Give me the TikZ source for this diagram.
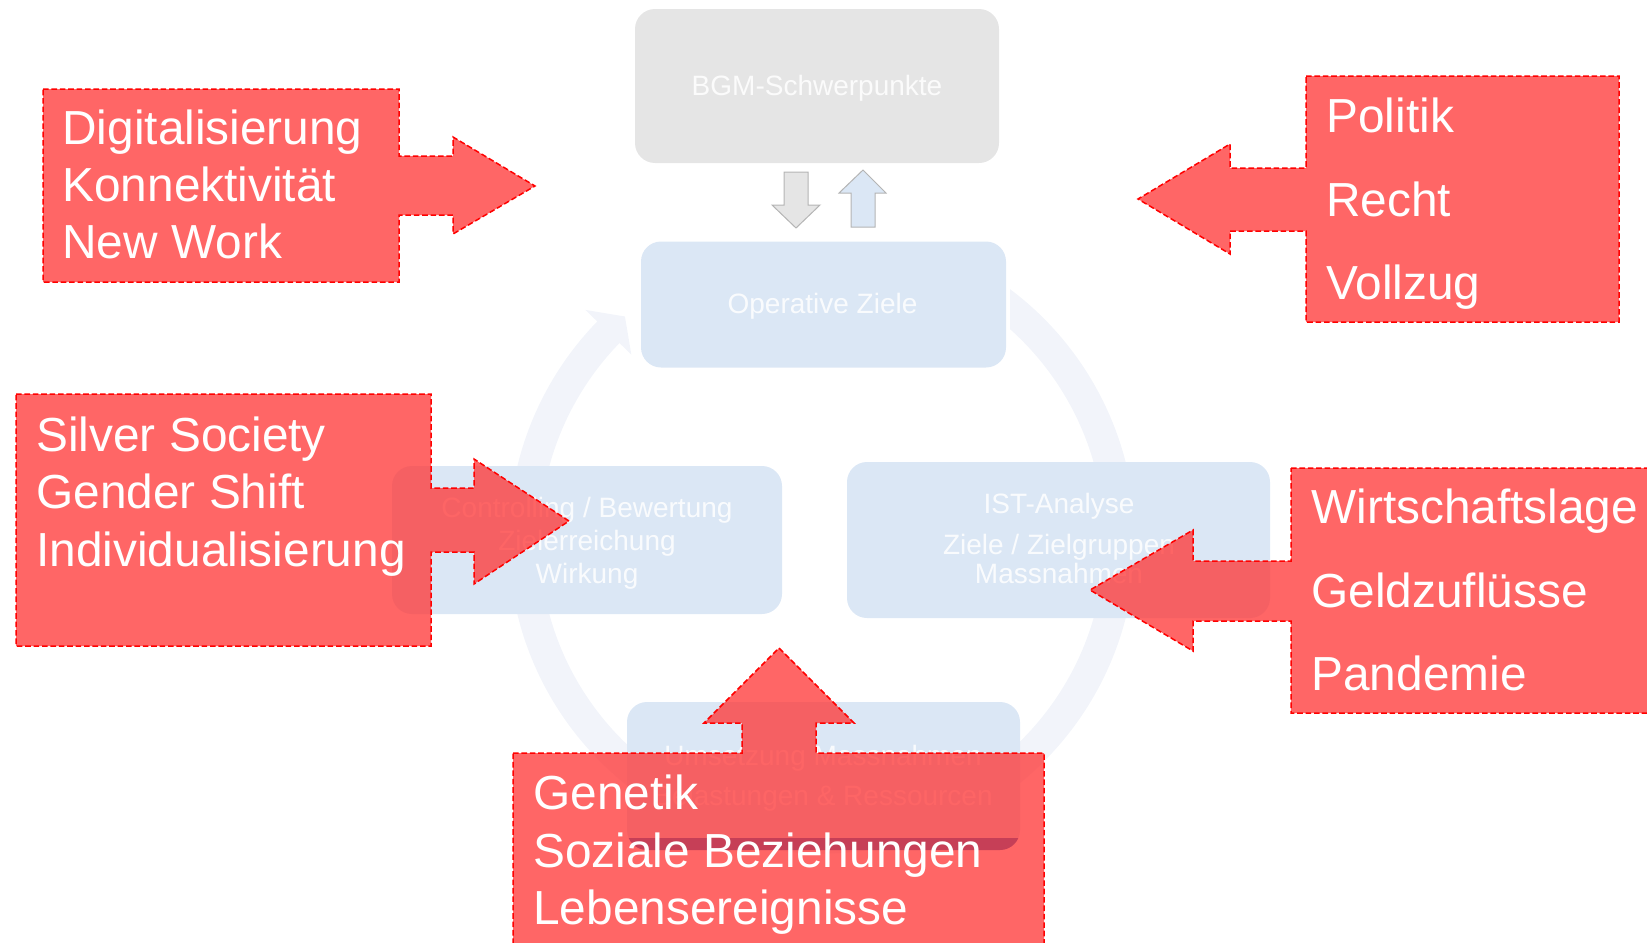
\documentclass[tikz,border=0pt]{standalone}
\usepackage{fontspec}
\setmainfont{Liberation Sans}
\definecolor{ringcol}{RGB}{242,244,250}
\definecolor{boxblue}{RGB}{219,231,245}
\definecolor{boxgray}{RGB}{229,229,229}
\definecolor{arrowline}{RGB}{180,180,180}
\definecolor{calloutred}{RGB}{255,51,51}
\definecolor{dashred}{RGB}{255,0,0}
\definecolor{stripblue}{RGB}{30,100,195}

\begin{document}
\begin{tikzpicture}[x=0.5pt,y=-0.5pt,
  cyclebox/.style={fill=boxblue, rounded corners=10pt, inner sep=0pt},
  topbox/.style={fill=boxgray, rounded corners=10pt, inner sep=0pt},
  boxtext/.style={anchor=base, inner sep=0pt, text=white, text opacity=0.85,
    font=\fontsize{14pt}{16pt}\selectfont},
  callout/.style={fill=calloutred, fill opacity=0.75, draw=dashred, draw opacity=1,
    line width=0.75pt, dash pattern=on 2.8pt off 1.4pt, line join=miter},
  callouttext/.style={anchor=base west, inner sep=0pt, text=white,
    font=\fontsize{23.9pt}{28pt}\selectfont},
  blockarrow/.style={draw=arrowline, line width=0.5pt, line join=miter}
]
\useasboundingbox (0,0) rectangle (1647,942);
\clip (0,0) rectangle (1647,942);

% --- cycle ring behind the boxes ---
\begin{scope}
  \clip (1010,0) rectangle (1647,942);
  \draw[ringcol, line width=15.5pt] ([shift={(822,540)}]-60:298) arc[start angle=-60, end angle=2, radius=298];
\end{scope}
\draw[ringcol, line width=15.5pt] ([shift={(822,540)}]-4:298) arc[start angle=-4, end angle=224.4, radius=298];
\fill[ringcol] ([shift={(822,540)}]224.2:330) -- ([shift={(822,540)}]228.6:298) -- ([shift={(822,540)}]224.2:266) -- cycle;

% --- top level box and the two small block arrows ---
\node[topbox, minimum width=182pt, minimum height=77pt] (bgm) at (817,86) {};
\node[boxtext] (bgm-t) at (817,95) {BGM-Schwerpunkte};

\fill[boxgray] (784,172) -- (808,172) -- (808,205) -- (820,205) -- (796,228) -- (772,205) -- (784,205) -- cycle;
\draw[blockarrow] (784,172) -- (808,172) -- (808,205) -- (820,205) -- (796,228) -- (772,205) -- (784,205) -- cycle;
\fill[boxblue] (851,227) -- (875,227) -- (875,193) -- (886,193) -- (863,170) -- (839,193) -- (851,193) -- cycle;
\draw[blockarrow] (851,227) -- (875,227) -- (875,193) -- (886,193) -- (863,170) -- (839,193) -- (851,193) -- cycle;

% --- the four cycle boxes ---
\node[cyclebox, minimum width=182.5pt, minimum height=63pt] (opz) at (823.5,304.5) {};
\node[boxtext] (opz-t) at (822.5,313) {Operative Ziele};

\node[cyclebox, minimum width=211.5pt, minimum height=78pt] (ist) at (1058.5,540) {};
\node[boxtext] (ist-t1) at (1059,513) {IST-Analyse};
\node[boxtext] (ist-t2) at (1059,554) {Ziele / Zielgruppen};
\node[boxtext] (ist-t3) at (1059,583) {Massnahmen};

\node[cyclebox, minimum width=195pt, minimum height=74pt] (ctrl) at (587,540) {};
\node[boxtext] (ctrl-t1) at (587,517) {Controlling / Bewertung};
\node[boxtext] (ctrl-t2) at (587,550) {Zielerreichung};
\node[boxtext] (ctrl-t3) at (587,583) {Wirkung};

\node[cyclebox, minimum width=196.5pt, minimum height=74pt] (ums) at (823.5,776) {};
\begin{scope}
  \clip (600,838) rectangle (1050,870);
  \fill[stripblue, rounded corners=10pt] (627,702) rectangle (1020,850);
\end{scope}
\node[boxtext] (ums-t1) at (823,765) {Umsetzung Massnahmen};
\node[boxtext] (ums-t2) at (823,805) {Belastungen \& Ressourcen};

% --- red influence callouts ---
\path[callout] (43,89) -- (399,89) -- (399,156) -- (453,156) -- (453,137) -- (535,186)
  -- (453,234) -- (453,215) -- (399,215) -- (399,282) -- (43,282) -- cycle;
\path[callout] (1306,76) -- (1619,76) -- (1619,322) -- (1306,322) -- (1306,231) -- (1230,231)
  -- (1230,254) -- (1138,199) -- (1230,144) -- (1230,168) -- (1306,168) -- cycle;
\path[callout] (16,394) -- (431,394) -- (431,488) -- (474,488) -- (474,459) -- (569,521)
  -- (474,584) -- (474,552) -- (431,552) -- (431,646) -- (16,646) -- cycle;
\path[callout] (1291,468) -- (1670,468) -- (1670,713) -- (1291,713) -- (1291,621) -- (1193,621)
  -- (1193,651) -- (1090,590) -- (1193,530) -- (1193,561) -- (1291,561) -- cycle;
\path[callout] (513,753) -- (742,753) -- (742,723) -- (704,723) -- (779,648) -- (854,723)
  -- (816,723) -- (816,753) -- (1044,753) -- (1044,970) -- (513,970) -- cycle;

% --- callout texts ---
\node[callouttext] (c1a) at (62,144) {Digitalisierung};
\node[callouttext] (c1b) at (62,201) {Konnektivität};
\node[callouttext] (c1c) at (62,258) {New Work};

\node[callouttext] (c2a) at (1326,132) {Politik};
\node[callouttext] (c2b) at (1326,216) {Recht};
\node[callouttext] (c2c) at (1326,299) {Vollzug};

\node[callouttext] (c3a) at (36,451) {Silver Society};
\node[callouttext] (c3b) at (36,508) {Gender Shift};
\node[callouttext] (c3c) at (36,566) {Individualisierung};

\node[callouttext] (c4a) at (1311,523) {Wirtschaftslage};
\node[callouttext] (c4b) at (1311,607) {Geldzuflüsse};
\node[callouttext] (c4c) at (1311,690) {Pandemie};

\node[callouttext] (c5a) at (533,809) {Genetik};
\node[callouttext] (c5b) at (533,867) {Soziale Beziehungen};
\node[callouttext] (c5c) at (533,924) {Lebensereignisse};
\end{tikzpicture}
\end{document}
